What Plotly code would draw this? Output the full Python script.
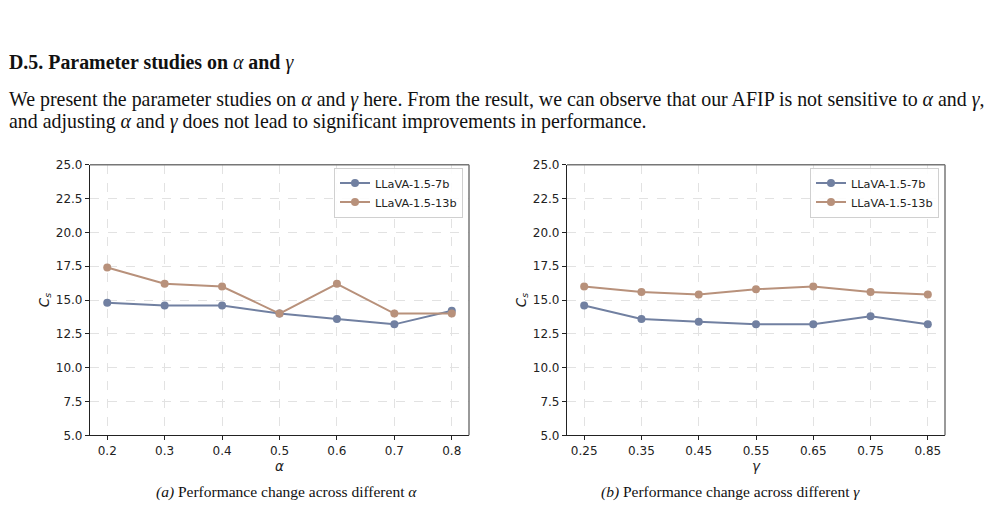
import plotly.graph_objects as go

alpha_vals = [0.2, 0.3, 0.4, 0.5, 0.6, 0.7, 0.8]
alpha_7b = [14.8, 14.6, 14.6, 14.0, 13.6, 13.2, 14.2]
alpha_13b = [17.4, 16.2, 16.0, 14.0, 16.2, 14.0, 14.0]

gamma_vals = [0.25, 0.35, 0.45, 0.55, 0.65, 0.75, 0.85]
gamma_7b = [14.6, 13.6, 13.4, 13.2, 13.2, 13.8, 13.2]
gamma_13b = [16.0, 15.6, 15.4, 15.8, 16.0, 15.6, 15.4]

series_names = ["LLaVA-1.5-7b", "LLaVA-1.5-13b"]
colors = ["#7180a1", "#b8917b"]
y_ticks = [5.0, 7.5, 10.0, 12.5, 15.0, 17.5, 20.0, 22.5, 25.0]

W, H = 988, 527
fig = go.Figure()

def add_pair(xs, ys_list, xa, ya, legend):
    for name, ys, c in zip(series_names, ys_list, colors):
        fig.add_trace(go.Scatter(
            x=xs, y=ys, name=name, mode="lines+markers",
            line=dict(color=c, width=2),
            marker=dict(color=c, size=8),
            xaxis=xa, yaxis=ya, legend=legend))

add_pair(alpha_vals, [alpha_7b, alpha_13b], "x", "y", "legend")
add_pair(gamma_vals, [gamma_7b, gamma_13b], "x2", "y2", "legend2")

tick_font = dict(family="DejaVu Sans", size=12, color="#222")
title_font = dict(family="DejaVu Sans", size=13.5, color="#222")
grid = dict(showgrid=True, gridcolor="#e2e2e2", griddash="dash", gridwidth=1)

def px_x(p):
    return p / W

def px_y(p):
    return 1 - p / H

common_x = dict(tickfont=tick_font, ticks="outside", ticklen=4, tickcolor="#222",
                showline=True, linecolor="#222", linewidth=1.2, zeroline=False, **grid)
common_y = dict(range=[5, 25], tickvals=y_ticks, ticktext=[f"{v:.1f}" for v in y_ticks],
                tickfont=tick_font, ticks="outside", ticklen=4, tickcolor="#222",
                showline=True, linecolor="#222", linewidth=1.2, zeroline=False, **grid)

fig.update_layout(
    width=W, height=H, margin=dict(l=0, r=0, t=0, b=0),
    paper_bgcolor="white", plot_bgcolor="white",
    xaxis=dict(domain=[px_x(90), px_x(469)], range=[0.17, 0.83], tickvals=alpha_vals,
               ticktext=[f"{v:.1f}" for v in alpha_vals], anchor="y",
               title=dict(text="<i>α</i>", font=title_font, standoff=1),
               **common_x),
    yaxis=dict(domain=[px_y(440), px_y(162)], anchor="x",
               title=dict(text="<i>C<sub>s</sub></i>", font=title_font, standoff=3),
               **common_y),
    xaxis2=dict(domain=[px_x(567), px_x(945)], range=[0.22, 0.88], tickvals=gamma_vals,
                ticktext=[f"{v:.2f}" for v in gamma_vals], anchor="y2",
                title=dict(text="<i>γ</i>", font=title_font, standoff=1),
                **common_x),
    yaxis2=dict(domain=[px_y(440), px_y(162)], anchor="x2",
                title=dict(text="<i>C<sub>s</sub></i>", font=title_font, standoff=3),
                **common_y),
    legend=dict(x=px_x(463), y=px_y(165), xanchor="right", yanchor="top",
                bgcolor="rgba(255,255,255,0.9)", bordercolor="#d0d0d0", borderwidth=1,
                font=dict(family="DejaVu Sans", size=11.3, color="#222"),
                tracegroupgap=0, itemwidth=30),
    legend2=dict(x=px_x(939), y=px_y(165), xanchor="right", yanchor="top",
                 bgcolor="rgba(255,255,255,0.9)", bordercolor="#d0d0d0", borderwidth=1,
                 font=dict(family="DejaVu Sans", size=11.3, color="#222"),
                 tracegroupgap=0, itemwidth=30),
    showlegend=True,
)

# top/right spines in gray
for x0, x1 in [(90, 469), (567, 945)]:
    fig.add_shape(type="line", xref="paper", yref="paper", x0=px_x(x0), x1=px_x(x1),
                  y0=px_y(162), y1=px_y(162), line=dict(color="#777", width=1.5))
    fig.add_shape(type="line", xref="paper", yref="paper", x0=px_x(x1), x1=px_x(x1),
                  y0=px_y(162), y1=px_y(440), line=dict(color="#777", width=1.5))

serif = "Liberation Serif"
texts = [
    (7, 57, "<b>D.5. Parameter studies on </b><i>α</i><b> and </b><i>γ</i>", 19.9),
    (7, 95, "We present the parameter studies on <i>α</i> and <i>γ</i> here. From the result, we can observe that our AFIP is not sensitive to <i>α</i> and <i>γ</i>,", 19.9),
    (7, 118, "and adjusting <i>α</i> and <i>γ</i> does not lead to significant improvements in performance.", 19.9),
]
for x, y, t, s in texts:
    fig.add_annotation(xref="paper", yref="paper", x=px_x(x), y=px_y(y), text=t,
                       showarrow=False, xanchor="left", yanchor="middle",
                       font=dict(family=serif, size=s, color="#111"))

captions = [(286, "<i>(a)</i> Performance change across different <i>α</i>"),
            (730, "<i>(b)</i> Performance change across different <i>γ</i>")]
for x, t in captions:
    fig.add_annotation(xref="paper", yref="paper", x=px_x(x), y=px_y(498), text=t,
                       showarrow=False, xanchor="center", yanchor="middle",
                       font=dict(family=serif, size=15.5, color="#111"))

fig.write_html("out.html")
